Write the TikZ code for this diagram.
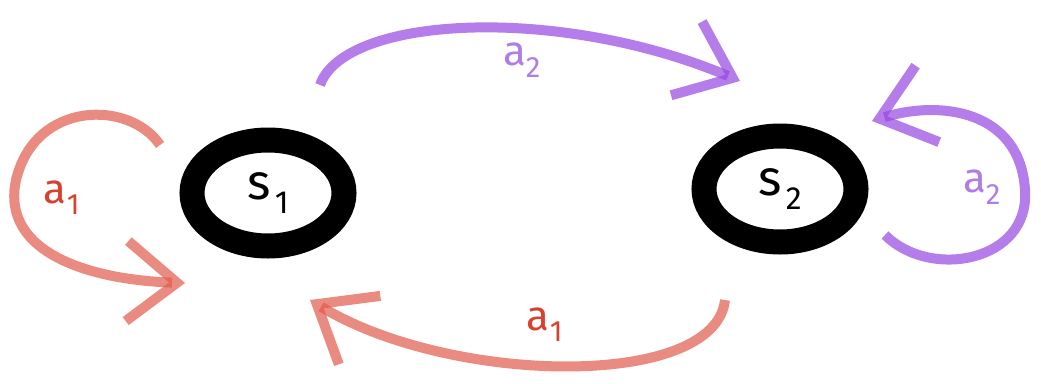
\documentclass[tikz,border=0pt]{standalone}
\usepackage{fontspec}
\setsansfont{Fira Sans}
\usepackage{xcolor}
\usetikzlibrary{shapes.geometric, arrows.meta, positioning}

\definecolor{redline}{RGB}{225,90,75}
\definecolor{redtext}{RGB}{215,65,45}
\definecolor{purpleline}{RGB}{150,70,225}
\definecolor{purpletext}{RGB}{175,125,230}

\begin{document}
\begin{tikzpicture}[x=1pt,y=-1pt,
        state/.style={ellipse, draw=black, line width=25pt, minimum width=152pt,
            minimum height=106pt, inner sep=0pt, font=\sffamily\fontsize{50}{50}\selectfont},
        redarc/.style={draw=redline, draw opacity=0.7, line width=10pt,
            -{Straight Barb[length=50pt,width=80pt]}},
        purplearc/.style={draw=purpleline, draw opacity=0.7, line width=10pt,
            -{Straight Barb[length=50pt,width=80pt]}},
        lbl/.style={font=\sffamily\fontsize{42}{42}\selectfont}]
        \useasboundingbox (0,0) rectangle (1041,383);

        % States
        \node[state] (s1) at (268,193) {s\kern4pt\raisebox{-14pt}{\fontsize{32}{32}\selectfont 1}};
        \node[state] (s2) at (780,189) {s\kern4pt\raisebox{-14pt}{\fontsize{32}{32}\selectfont 2}};

        % Loop ends
        \coordinate (r1a) at ([shift={(-108,-48)}]s1.center);
        \coordinate (r1b) at ([shift={(-83,90)}]s1.center);
        \coordinate (p2a) at ([shift={(105,46)}]s2.center);
        \coordinate (p2b) at ([shift={(92,-68)}]s2.center);
        \coordinate (t1) at ([shift={(52,-108)}]s1.center);
        \coordinate (t2) at ([shift={(-40,-108)}]s2.center);
        \coordinate (b2) at ([shift={(-55,111)}]s2.center);
        \coordinate (b1) at ([shift={(42,107)}]s1.center);

        % Transitions
        \draw[redarc] (r1a) .. controls (130,100) and (35,100) .. (16,180)
            .. controls (0,255) and (95,280) .. (r1b);
        \draw[purplearc] (t1) .. controls (345,15) and (560,5) .. (t2);
        \draw[purplearc] (p2a) .. controls (930,280) and (1030,262) .. (1025,190)
            .. controls (1020,110) and (940,100) .. (p2b);
        \draw[redarc] (b2) .. controls (715,390) and (450,385) .. (b1);

        % Labels
        \node[lbl, text=redtext] (l1) at (62,198) {a\textsubscript{1}};
        \node[lbl, text=purpletext] (l2) at (522,60) {a\textsubscript{2}};
        \node[lbl, text=purpletext] (l3) at (982,187) {a\textsubscript{2}};
        \node[lbl, text=redtext] (l4) at (545,325) {a\textsubscript{1}};
\end{tikzpicture}
\end{document}
